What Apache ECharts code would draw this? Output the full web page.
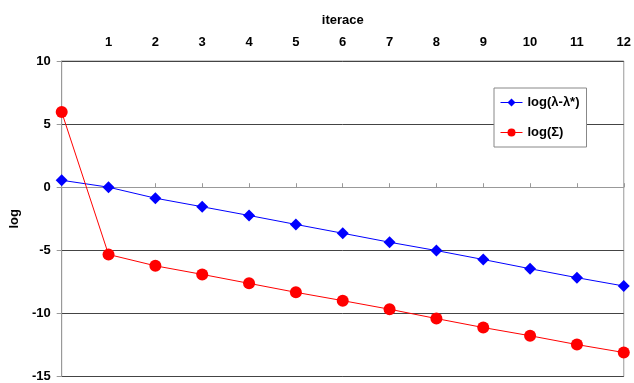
<!DOCTYPE html>
<html><head><meta charset="utf-8">
<script src="https://cdn.jsdelivr.net/npm/echarts@6/dist/echarts.min.js"></script>
<style>html,body{margin:0;padding:0;background:#fff}#c{width:634px;height:383px}</style>
</head><body><div id="c"></div>
<script>
const iterations = [0,1,2,3,4,5,6,7,8,9,10,11,12];
const logLambda = [0.55, 0, -0.87, -1.55, -2.24, -2.95, -3.65, -4.36, -5.02, -5.73, -6.46, -7.17, -7.83];
const logSigma = [5.95, -5.33, -6.23, -6.91, -7.62, -8.33, -8.99, -9.67, -10.41, -11.12, -11.77, -12.47, -13.1];
const seriesNames = ['log(\u03bb-\u03bb*)', 'log(\u03a3)'];
const xTitle = 'iterace';
const yTitle = 'log';

const font = 'Liberation Sans, Arial, sans-serif';
const chart = echarts.init(document.getElementById('c'));
chart.setOption({
  animation: false,
  grid: {left: 61, right: 7, top: 61, bottom: 5, show: true, borderColor: '#999', borderWidth: 1},
  legend: {
    left: 494, top: 88, orient: 'vertical', itemGap: 17,
    backgroundColor: '#fff', borderColor: '#888', borderWidth: 1,
    padding: [8, 7, 8, 6], itemWidth: 22, itemHeight: 10,
    lineStyle: {width: 1},
    textStyle: {fontFamily: font, fontWeight: 'bold', fontSize: 13, color: '#000'},
    data: seriesNames
  },
  xAxis: {
    type: 'value', position: 'top', min: 0, max: 12, interval: 1,
    name: xTitle, nameLocation: 'middle', nameGap: 34,
    nameTextStyle: {fontFamily: font, fontWeight: 'bold', fontSize: 13, color: '#000'},
    axisLine: {lineStyle: {color: '#999'}},
    axisTick: {lineStyle: {color: '#999'}, length: 4},
    splitLine: {show: false},
    axisLabel: {fontFamily: font, fontWeight: 'bold', fontSize: 13, color: '#000', margin: 12,
      formatter: v => v === 0 ? '' : String(v)}
  },
  yAxis: {
    type: 'value', min: -15, max: 10, interval: 5,
    name: yTitle, nameLocation: 'middle', nameGap: 37, nameRotate: 90,
    nameTextStyle: {fontFamily: font, fontWeight: 'bold', fontSize: 13, color: '#000'},
    axisLine: {show: true, lineStyle: {color: '#999'}},
    axisTick: {show: true, lineStyle: {color: '#999'}, length: 5},
    splitLine: {lineStyle: {color: '#444', width: 1}},
    axisLabel: {fontFamily: font, fontWeight: 'bold', fontSize: 13, color: '#000', margin: 11}
  },
  series: [
    {name: seriesNames[0], type: 'line', data: iterations.map((x,i)=>[x, logLambda[i]]),
     symbol: 'diamond', symbolSize: 12, itemStyle: {color: '#0000ff'},
     lineStyle: {color: '#0000ff', width: 1}},
    {name: seriesNames[1], type: 'line', data: iterations.map((x,i)=>[x, logSigma[i]]),
     symbol: 'circle', symbolSize: 12, itemStyle: {color: '#ff0000'},
     lineStyle: {color: '#ff0000', width: 1}}
  ]
});
</script></body></html>
